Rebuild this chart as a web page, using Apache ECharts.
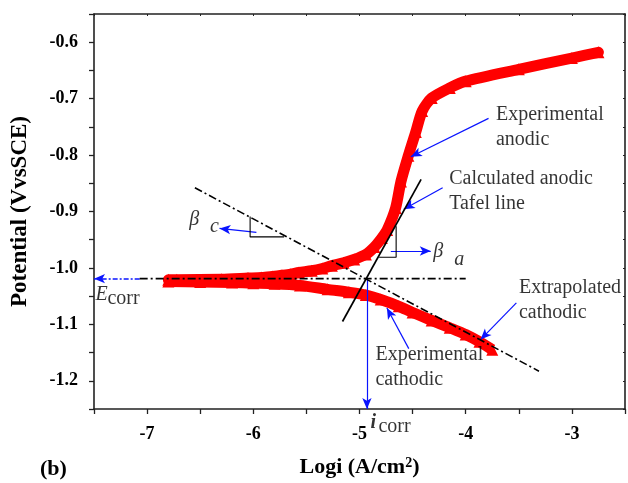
<!DOCTYPE html>
<html>
<head>
<meta charset="utf-8">
<script src="https://cdn.jsdelivr.net/npm/echarts@6/dist/echarts.min.js"></script>
<style>
  html, body { margin: 0; padding: 0; background: #fff; }
  #main { width: 628px; height: 483px; }
</style>
</head>
<body>
<div id="main"></div>
<script>
// measured polarisation curve (log i, potential)
const anodicX = [-6.8, -6.72, -6.3, -6.05, -5.92, -5.82, -5.73, -5.65, -5.57, -5.45, -5.35, -5.26, -5.15, -5.05, -4.94, -4.86, -4.79, -4.74, -4.66, -4.61, -4.54, -4.47, -4.41, -4.32, -4.15, -4.0, -3.5, -3.0, -2.75]
const anodicY = [-1.021, -1.021, -1.02, -1.018, -1.017, -1.015, -1.013, -1.011, -1.008, -1.005, -1.001, -0.996, -0.991, -0.985, -0.976, -0.963, -0.947, -0.933, -0.894, -0.847, -0.801, -0.759, -0.722, -0.699, -0.681, -0.669, -0.648, -0.628, -0.618]
const cathodicX = [-6.8, -6.5, -6.2, -6.0, -5.8, -5.56, -5.3, -5.1, -4.94, -4.8, -4.63, -4.5, -4.32, -4.15, -4.0, -3.87, -3.75]
const cathodicY = [-1.024, -1.025, -1.026, -1.027, -1.028, -1.031, -1.038, -1.043, -1.048, -1.056, -1.068, -1.079, -1.093, -1.106, -1.118, -1.131, -1.145]

// construction lines
const ecorrLine = [[-7.07, -1.019], [-4.0, -1.019]]
const cathodicTafel = [[-6.55, -0.858], [-3.31, -1.183]]
const anodicTafel = [[-5.16, -1.095], [-4.42, -0.843]]
const betaCCorner = [[-6.03, -0.909], [-6.03, -0.945], [-5.71, -0.945]]
const betaACorner = [[-4.655, -0.926], [-4.655, -0.981], [-4.815, -0.981]]

// blue pointer arrows [from, to]
const blueArrows = [
  [[-3.785, -0.735], [-4.517, -0.803]],
  [[-4.217, -0.858], [-4.583, -0.896]],
  [[-3.523, -1.062], [-3.86, -1.127]],
  [[-4.536, -1.143], [-4.742, -1.071]],
  [[-5.971, -0.937], [-6.318, -0.930]],
  [[-4.705, -0.970], [-4.329, -0.970]],
  [[-4.93, -1.019], [-4.93, -1.25]]
]
const ecorrArrow = [[-7.07, -1.019], [-7.5, -1.019]]

// annotation texts [text, x, y, kind]
const notes = [
  ['Experimental\nanodic', -3.71, -0.708, 'block'],
  ['Calculated anodic\nTafel line', -4.151, -0.821, 'block'],
  ['Extrapolated\ncathodic', -3.494, -1.014, 'block'],
  ['Experimental\ncathodic', -4.845, -1.132, 'block'],
  ['β', -6.599, -0.916, 'greek'],
  ['c', -6.402, -0.928, 'greek'],
  ['β', -4.301, -0.972, 'greek'],
  ['a', -4.104, -0.986, 'greek'],
  ['E', -7.481, -1.049, 'greek'],
  ['corr', -7.369, -1.055, 'plain'],
  ['i', -4.892, -1.275, 'boldItalic'],
  ['corr', -4.817, -1.283, 'plain']
]

const serif = 'Liberation Serif'
const noteStyles = {
  block: { verticalAlign: 'top', lineHeight: 25 },
  greek: { fontStyle: 'italic', verticalAlign: 'middle' },
  plain: { verticalAlign: 'middle' },
  boldItalic: { fontStyle: 'italic', fontWeight: 'bold', verticalAlign: 'middle' }
}

const chart = echarts.init(document.getElementById('main'))

const xBase = {
  type: 'value', min: -7.5, max: -2.5, interval: 0.5,
  splitLine: { show: false },
  axisLine: { onZero: false, lineStyle: { color: '#222', width: 1.6 } }
}
const yBase = {
  type: 'value', min: -1.25, max: -0.55, interval: 0.05,
  splitLine: { show: false },
  axisLine: { onZero: false, lineStyle: { color: '#222', width: 1.6 } }
}

const dashDot = [8, 3, 2, 3]

chart.setOption({
  animation: false,
  backgroundColor: '#fff',
  grid: { left: 94, top: 14, right: 2, bottom: 71, containLabel: false },
  xAxis: [
    Object.assign({}, xBase, {
      position: 'bottom',
      name: 'Logi (A/cm{sup|2})',
      nameLocation: 'middle',
      nameGap: 47,
      nameTextStyle: {
        fontFamily: serif, fontWeight: 'bold', fontSize: 22, color: '#000',
        rich: { sup: { fontFamily: serif, fontWeight: 'bold', fontSize: 14, verticalAlign: 'top', color: '#000' } }
      },
      axisTick: { show: true, inside: false, length: 5, lineStyle: { color: '#222', width: 1.3 } },
      axisLabel: {
        margin: 16, fontFamily: serif, fontWeight: 'bold', fontSize: 18, color: '#000',
        formatter: v => (Math.abs(v - Math.round(v)) < 1e-6 ? String(Math.round(v)) : '')
      }
    }),
    Object.assign({}, xBase, {
      position: 'top',
      axisTick: { show: true, inside: true, length: 2, lineStyle: { color: '#222' } },
      axisLabel: { show: false }
    })
  ],
  yAxis: [
    Object.assign({}, yBase, {
      position: 'left',
      name: 'Potential (VvsSCE)',
      nameLocation: 'middle',
      nameGap: 62,
      nameTextStyle: { fontFamily: serif, fontWeight: 'bold', fontSize: 23, color: '#000' },
      axisTick: { show: true, inside: false, length: 5, lineStyle: { color: '#222', width: 1.3 } },
      axisLabel: {
        margin: 16, fontFamily: serif, fontWeight: 'bold', fontSize: 18, color: '#000',
        formatter: v => (Math.abs(v * 10 - Math.round(v * 10)) < 1e-6 ? v.toFixed(1) : '')
      }
    }),
    Object.assign({}, yBase, {
      position: 'right',
      axisTick: { show: true, inside: true, length: 2, lineStyle: { color: '#222' } },
      axisLabel: { show: false }
    })
  ],
  graphic: [{
    type: 'text', left: 40, top: 458,
    style: { text: '(b)', font: 'bold 22px "Liberation Serif"', fill: '#000' }
  }],
  series: [
    {
      name: 'anodic', type: 'line', z: 2,
      data: anodicX.map((x, i) => [x, anodicY[i]]),
      smooth: 0.25, symbol: 'triangle', symbolSize: 12, showSymbol: true,
      itemStyle: { color: '#ff0000' },
      lineStyle: { color: '#ff0000', width: 11, cap: 'round', join: 'round' }
    },
    {
      name: 'cathodic', type: 'line', z: 2,
      data: cathodicX.map((x, i) => [x, cathodicY[i]]),
      smooth: 0.25, symbol: 'triangle', symbolSize: 12, showSymbol: true,
      itemStyle: { color: '#ff0000' },
      lineStyle: { color: '#ff0000', width: 11, cap: 'butt', join: 'round' }
    },
    {
      type: 'line', z: 5, data: ecorrLine, symbol: 'none',
      lineStyle: { color: '#000', width: 1.6, type: dashDot }
    },
    {
      type: 'line', z: 5, data: cathodicTafel, symbol: 'none',
      lineStyle: { color: '#000', width: 1.6, type: dashDot }
    },
    {
      type: 'line', z: 5, data: anodicTafel, symbol: 'none',
      lineStyle: { color: '#000', width: 1.7 },
      markLine: {
        silent: true, symbol: ['none', 'arrow'], symbolSize: [7, 11],
        label: { show: false },
        lineStyle: { color: '#0a14ff', width: 1.2, type: 'solid' },
        data: blueArrows.map(a => [{ coord: a[0] }, { coord: a[1] }])
          .concat([[
            { coord: ecorrArrow[0], lineStyle: { type: [5, 2, 2, 2], width: 1.6 } },
            { coord: ecorrArrow[1] }
          ]])
      }
    },
    {
      type: 'line', z: 5, data: betaCCorner, symbol: 'none',
      lineStyle: { color: '#000', width: 1.1 }
    },
    {
      type: 'line', z: 5, data: betaACorner, symbol: 'none',
      lineStyle: { color: '#000', width: 1.1 }
    },
    {
      type: 'scatter', z: 6, clip: false, silent: true,
      symbolSize: 1, itemStyle: { color: 'rgba(0,0,0,0)' },
      data: notes.map(n => ({
        value: [n[1], n[2]],
        label: Object.assign({
          show: true, position: [0, 0], align: 'left',
          formatter: n[0], fontFamily: serif, fontSize: 20, color: '#000'
        }, noteStyles[n[3]])
      }))
    }
  ]
})
</script>
</body>
</html>
